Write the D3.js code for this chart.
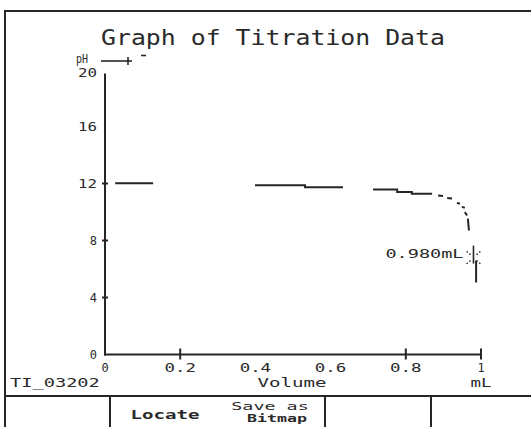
<!DOCTYPE html>
<html>
<head>
<meta charset="utf-8">
<script src="https://cdn.jsdelivr.net/npm/d3@7"></script>
<style>
  html, body { margin: 0; padding: 0; background: #fff; }
  svg { display: block; }
  text { font-family: "DejaVu Sans Mono", "Liberation Mono", monospace; fill: #2a2a2a; }
</style>
</head>
<body>
<svg id="chart" width="531" height="427"></svg>
<script>
// Titration readings: volume of titrant (mL) and measured pH.
// null entries separate the pieces the plotter drew.
const volume = [0.027, 0.128, null,
                0.399, 0.532, 0.532, 0.633, null,
                0.713, 0.777, 0.777, 0.816, 0.816, 0.870, null,
                0.886, 0.899, null,
                0.910, 0.923, null,
                0.936, 0.944, null,
                0.949, 0.957, null,
                0.957, 0.963, null,
                0.965, 0.968, null,
                0.987, 0.987];
const pH     = [12.02, 12.02, null,
                11.88, 11.88, 11.74, 11.74, null,
                11.58, 11.58, 11.40, 11.40, 11.28, 11.28, null,
                11.16, 11.12, null,
                10.99, 10.95, null,
                10.64, 10.58, null,
                10.36, 10.30, null,
                9.99, 9.75, null,
                9.54, 8.70, null,
                6.60, 5.05];

// Trace cursor
const cursorVolume = 0.980;
const cursorPH = 6.8;
const cursorLabel = "0.980mL";

const xTicks = [0, 0.2, 0.4, 0.6, 0.8, 1];
const xTickLabels = ["0", "0.2", "0.4", "0.6", "0.8", "1"];
const xTickMarks = [0.2, 0.8, 1];
const yTicks = [0, 4, 8, 12, 16, 20];
const yTickMarks = [4, 8, 12];

const title = "Graph of Titration Data";
const xTitle = "Volume";
const xUnit = "mL";
const yTitle = "pH";
const fileName = "TI_03202";
const menuItems = ["", "Locate", "Save as|Bitmap", "", ""];

const ink = "#262626";
const svg = d3.select("#chart");

const x = d3.scaleLinear().domain([0, 1]).range([105, 481]);
const y = d3.scaleLinear().domain([0, 20]).range([354.5, 69.5]);

// Calculator-style text: fixed advance of about 11px per character
function label(sel, str, size, advance) {
  sel.attr("font-size", size).text(str);
  if (str.length > 1) {
    sel.attr("textLength", str.length * advance - 3).attr("lengthAdjust", "spacingAndGlyphs");
  }
  return sel;
}

// Screen frame
svg.append("line").attr("x1", 5).attr("x2", 531).attr("y1", 11).attr("y2", 11)
  .attr("stroke", ink).attr("stroke-width", 2);
svg.append("line").attr("x1", 5).attr("x2", 5).attr("y1", 10).attr("y2", 427)
  .attr("stroke", ink).attr("stroke-width", 2);

// Soft-key row
const menuTop = 396;
svg.append("line").attr("x1", 5).attr("x2", 531).attr("y1", menuTop).attr("y2", menuTop)
  .attr("stroke", ink).attr("stroke-width", 2);
const dividers = [110, 325, 431];
svg.selectAll("line.div").data(dividers).enter().append("line")
  .attr("class", "div")
  .attr("x1", d => d).attr("x2", d => d).attr("y1", menuTop).attr("y2", 427)
  .attr("stroke", ink).attr("stroke-width", 2);
label(svg.append("text").attr("x", 165).attr("y", 419).attr("text-anchor", "middle")
  .attr("font-weight", "bold"), menuItems[1], 12, 12);
const saveLines = menuItems[2].split("|");
label(svg.append("text").attr("x", 270).attr("y", 410).attr("text-anchor", "middle"),
  saveLines[0], 11, 11.5);
label(svg.append("text").attr("x", 277).attr("y", 422).attr("text-anchor", "middle")
  .attr("font-weight", "bold"), saveLines[1], 11, 10.5);

// Title
svg.append("text").attr("x", 101).attr("y", 45)
  .attr("font-size", 21).attr("textLength", 344).attr("lengthAdjust", "spacingAndGlyphs")
  .attr("fill", "#3a3a3a").text(title);

// Y label with its key line
label(svg.append("text").attr("x", 76).attr("y", 63), yTitle, 12, 7.5);
svg.append("line").attr("x1", 101).attr("x2", 132).attr("y1", 61).attr("y2", 61)
  .attr("stroke", ink).attr("stroke-width", 1.6);
svg.append("line").attr("x1", 128).attr("x2", 128).attr("y1", 57).attr("y2", 65)
  .attr("stroke", ink).attr("stroke-width", 1.6);
svg.append("line").attr("x1", 141).attr("x2", 146).attr("y1", 55.5).attr("y2", 55.5)
  .attr("stroke", ink).attr("stroke-width", 1.6);

// Axes
svg.append("line").attr("x1", x(0)).attr("x2", x(0)).attr("y1", y(20) + 4).attr("y2", y(0) + 1)
  .attr("stroke", ink).attr("stroke-width", 2);
svg.append("line").attr("x1", x(0) - 1).attr("x2", x(1)).attr("y1", y(0)).attr("y2", y(0))
  .attr("stroke", ink).attr("stroke-width", 2);

svg.selectAll("line.xt").data(xTickMarks).enter().append("line")
  .attr("class", "xt")
  .attr("x1", d => x(d)).attr("x2", d => x(d))
  .attr("y1", y(0) - 6).attr("y2", y(0) + 5)
  .attr("stroke", ink).attr("stroke-width", 2);
svg.selectAll("line.yt").data(yTickMarks).enter().append("line")
  .attr("class", "yt")
  .attr("x1", x(0) - 3).attr("x2", x(0) + 3)
  .attr("y1", d => y(d)).attr("y2", d => y(d))
  .attr("stroke", ink).attr("stroke-width", 2);

svg.selectAll("text.xl").data(xTicks).enter().append("text")
  .attr("class", "xl")
  .attr("x", d => x(d)).attr("y", 372)
  .attr("text-anchor", "middle")
  .each(function (d, i) { label(d3.select(this), xTickLabels[i], 12, 11.5); });
svg.selectAll("text.yl").data(yTicks).enter().append("text")
  .attr("class", "yl")
  .attr("x", 97).attr("y", d => y(d) + 4 + (d === 20 ? 3 : 0))
  .attr("text-anchor", "end")
  .each(function (d) { label(d3.select(this), String(d), 12, 11); });

label(svg.append("text").attr("x", 292).attr("y", 387).attr("text-anchor", "middle"),
  xTitle, 12, 12);
label(svg.append("text").attr("x", x(1)).attr("y", 387).attr("text-anchor", "middle"),
  xUnit, 12, 12);
label(svg.append("text").attr("x", 10).attr("y", 387), fileName, 12, 11.6);

// Titration curve
const pts = volume.map((v, i) => ({ v, p: pH[i] }));
const line = d3.line()
  .defined(d => d.v !== null && d.p !== null)
  .x(d => x(d.v)).y(d => y(d.p));
svg.append("path").datum(pts)
  .attr("d", line)
  .attr("fill", "none").attr("stroke", ink).attr("stroke-width", 2);

// Trace cursor and its reading
const cx = x(cursorVolume), cy = y(cursorPH);
svg.append("line").attr("x1", cx).attr("x2", cx).attr("y1", cy - 12).attr("y2", cy + 6)
  .attr("stroke", ink).attr("stroke-width", 1.6);
[[-1, -1], [1, -1], [-1, 1], [1, 1]].forEach(([dx, dy]) => {
  svg.append("line")
    .attr("x1", cx + dx * 3).attr("y1", cy + dy * 3)
    .attr("x2", cx + dx * 8).attr("y2", cy + dy * 7)
    .attr("stroke", ink).attr("stroke-width", 1.4)
    .attr("stroke-dasharray", "1.5,2");
});
svg.append("text").attr("x", cx - 10).attr("y", cy)
  .attr("text-anchor", "end").attr("font-size", 12)
  .attr("textLength", 78).attr("lengthAdjust", "spacingAndGlyphs")
  .text(cursorLabel);
</script>
</body>
</html>
